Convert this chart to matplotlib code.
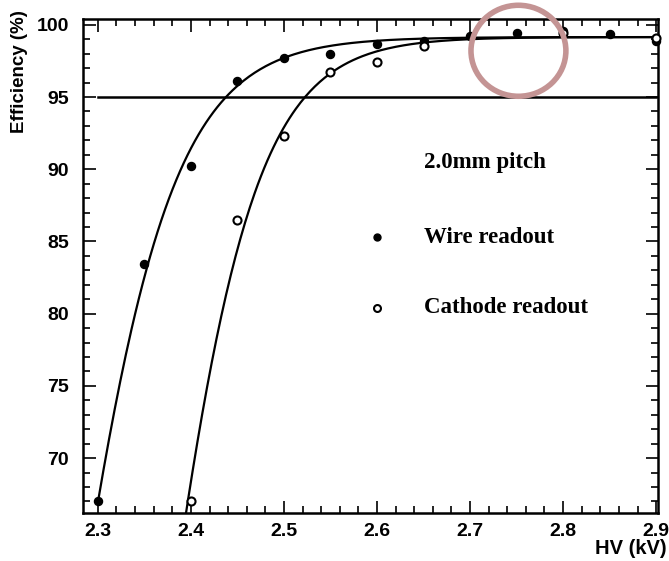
import numpy as np
import matplotlib
matplotlib.use("Agg")
import matplotlib.pyplot as plt
from matplotlib.patches import Ellipse

# measured points
hv_wire = [2.30, 2.35, 2.40, 2.45, 2.50, 2.55, 2.60, 2.65, 2.70, 2.75, 2.80, 2.85, 2.90]
eff_wire = [67.0, 83.45, 90.25, 96.1, 97.7, 97.95, 98.7, 98.85, 99.25, 99.4, 99.55, 99.35, 98.85]

hv_cath = [2.40, 2.45, 2.50, 2.55, 2.60, 2.65, 2.80, 2.90]
eff_cath = [67.05, 86.5, 92.3, 96.7, 97.4, 98.5, 99.4, 99.1]

# sigmoid fit parameters (plateau, midpoint, width)
fit_wire = (99.15, 2.258, 0.0574)
fit_cath = (99.15, 2.358, 0.0526)

xticks = [2.3, 2.4, 2.5, 2.6, 2.7, 2.8, 2.9]
yticks = [70, 75, 80, 85, 90, 95, 100]


def sigmoid(v, p):
    return p[0] / (1 + np.exp(-(v - p[1]) / p[2]))


plt.rcParams['font.family'] = ['Liberation Sans', 'DejaVu Sans']
fig = plt.figure(figsize=(6.69, 5.61), dpi=100)
ax = fig.add_axes([83 / 669, 1 - 513 / 561, (658 - 83) / 669, (513 - 19) / 561])

v1 = np.linspace(2.30, 2.90, 300)
v2 = np.linspace(2.39, 2.90, 300)
ax.plot(v1, sigmoid(v1, fit_wire), color='black', lw=1.6)
ax.plot(v2, sigmoid(v2, fit_cath), color='black', lw=1.6)

ax.plot([2.3, 2.9], [95, 95], color='black', lw=1.8)

ax.plot(hv_wire, eff_wire, 'o', color='black', ms=5.8, clip_on=False, zorder=5)
ax.plot(hv_cath, eff_cath, 'o', mfc='white', mec='black', mew=1.5, ms=5.8,
        clip_on=False, zorder=5)

ax.set_xlim(2.284, 2.902)
ax.set_ylim(66.2, 100.4)
ax.set_xticks(xticks)
ax.set_yticks(yticks)
ax.set_xticks(np.arange(2.30, 2.91, 0.02), minor=True)
ax.set_yticks(np.arange(67, 101, 1), minor=True)
ax.tick_params(which='both', direction='in', top=True, right=True, width=1.2)
ax.tick_params(which='major', length=9)
ax.tick_params(which='minor', length=5)
ax.tick_params(axis='y', labelsize=14, pad=10)
ax.tick_params(axis='x', labelsize=14, pad=7)
for lab in ax.get_xticklabels() + ax.get_yticklabels():
    lab.set_fontweight('bold')
for s in ax.spines.values():
    s.set_linewidth(1.8)

fig.text(20 / 669, 1 - 72 / 561, 'Efficiency (%)', rotation=90, ha='center',
         va='center', fontsize=13.5, fontweight='bold')
fig.text(667 / 669, 1 - 549 / 561, 'HV (kV)', ha='right', va='center',
         fontsize=14.5, fontweight='bold')

# legend drawn as text
serif = ['Liberation Serif', 'DejaVu Serif']
ax.text(2.65, 90.45, '2.0mm pitch', family=serif, fontsize=16.5, fontweight='bold',
        va='center')
ax.plot([2.60], [85.3], 'o', color='black', ms=5)
ax.text(2.65, 85.3, 'Wire readout', family=serif, fontsize=16.5, fontweight='bold',
        va='center')
ax.plot([2.60], [80.4], 'o', mfc='white', mec='black', mew=1.5, ms=5)
ax.text(2.65, 80.4, 'Cathode readout', family=serif, fontsize=16.5, fontweight='bold',
        va='center')

ax.add_patch(Ellipse((2.752, 98.2), 0.102, 6.3, fill=False, ec='#c49494',
                     lw=4, clip_on=False, zorder=6))

fig.savefig('out.png', dpi=100)
